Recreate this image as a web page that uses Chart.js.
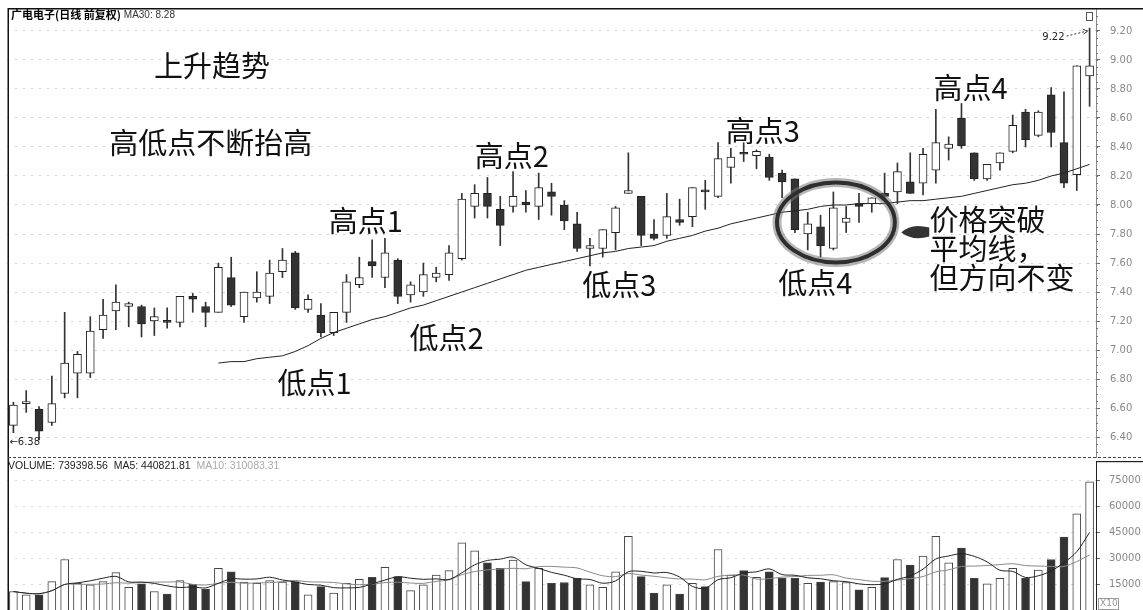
<!DOCTYPE html>
<html>
<head>
<meta charset="utf-8">
<script src="https://cdn.jsdelivr.net/npm/chart.js@4.4.0/dist/chart.umd.min.js"></script>
<style>
  html, body { margin: 0; padding: 0; background: #fff; overflow: hidden; }
  #wrap { position: relative; width: 1143px; height: 610px; }
  #priceBox { position: absolute; left: 0; top: 0; width: 1143px; height: 458px; }
  #volBox { position: absolute; left: 0; top: 458px; width: 1143px; height: 153px; }
</style>
</head>
<body>
<div id="wrap">
  <div id="priceBox"><canvas id="priceChart"></canvas></div>
  <div id="volBox"><canvas id="volChart"></canvas></div>
</div>
<script>
// 日K数据
const opens  = [6.48,6.63,6.59,6.50,6.70,6.84,6.84,7.14,7.27,7.30, 7.30,7.20,7.20,7.19,7.37,7.30,7.26,7.50,7.23,7.36,
                7.37,7.54,7.67,7.28,7.24,7.12,7.26,7.45,7.61,7.50, 7.62,7.38,7.40,7.50,7.52,7.63,7.99,8.08,7.97,7.99,
                8.02,7.99,8.09,8.00,7.87,7.70,7.70,7.81,8.08,8.06, 7.80,7.79,7.90,7.92,8.10,8.06,8.26,8.36,8.34,8.33,
                8.22,8.18,7.80,7.85,7.70,7.88,8.01,8.01,8.08,8.09, 8.16,8.15,8.24,8.39,8.60,8.36,8.18,8.29,8.37,8.64,
                8.48,8.76,8.43,8.21,8.89];
const highs  = [6.64,6.72,6.61,6.82,7.26,6.99,7.23,7.35,7.45,7.33, 7.31,7.29,7.29,7.37,7.39,7.33,7.60,7.64,7.40,7.54,
                7.62,7.70,7.68,7.38,7.32,7.26,7.52,7.64,7.76,7.77, 7.63,7.47,7.60,7.57,7.72,8.08,8.14,8.19,8.06,8.23,
                8.10,8.22,8.15,8.03,7.95,7.77,7.83,7.99,8.36,8.06, 7.90,8.08,8.04,8.12,8.17,8.43,8.39,8.43,8.38,8.35,
                8.24,8.18,7.95,7.93,8.09,7.99,8.08,8.05,8.22,8.29, 8.36,8.39,8.66,8.47,8.70,8.36,8.28,8.36,8.62,8.66,
                8.65,8.81,8.78,8.96,9.22];
const lows   = [6.43,6.57,6.38,6.48,6.67,6.67,6.81,7.08,7.14,7.16, 7.09,7.10,7.15,7.16,7.26,7.16,7.26,7.30,7.19,7.33,
                7.32,7.50,7.28,7.26,7.09,7.10,7.19,7.43,7.50,7.43, 7.32,7.33,7.37,7.47,7.48,7.62,7.91,7.91,7.72,7.95,
                7.95,7.90,7.93,7.83,7.68,7.58,7.64,7.69,8.08,7.72, 7.76,7.77,7.86,7.85,7.97,8.05,8.15,8.30,8.25,8.17,
                8.05,7.81,7.69,7.64,7.69,7.81,7.88,7.95,8.05,8.01, 8.08,8.07,8.15,8.31,8.39,8.17,8.17,8.24,8.36,8.40,
                8.47,8.40,8.12,8.10,8.68];
const closes = [6.62,6.64,6.44,6.63,6.91,6.97,7.13,7.24,7.33,7.32, 7.18,7.23,7.19,7.37,7.35,7.26,7.57,7.31,7.40,7.40,
                7.53,7.62,7.29,7.35,7.12,7.26,7.47,7.50,7.58,7.67, 7.37,7.45,7.52,7.53,7.67,8.04,8.08,7.99,7.86,8.06,
                8.00,8.12,8.06,7.89,7.70,7.72,7.83,7.98,8.10,7.79, 7.77,7.92,7.88,8.12,8.09,8.32,8.33,8.35,8.37,8.19,
                8.16,7.83,7.87,7.72,7.98,7.91,7.99,8.05,8.06,8.23, 8.08,8.35,8.43,8.42,8.41,8.18,8.28,8.36,8.55,8.45,
                8.64,8.50,8.15,8.96,8.96];

// 30日均线 (前16天无数据)
const ma30 = [null,null,null,null,null,null,null,null,null,null, null,null,null,null,null,null,6.91,6.92,6.92,6.94,
              6.95,6.96,6.99,7.03,7.08,7.12,7.15,7.18,7.21,7.23, 7.26,7.29,7.31,7.34,7.37,7.40,7.43,7.46,7.49,7.52,
              7.55,7.57,7.59,7.61,7.63,7.65,7.67,7.68,7.70,7.71, 7.72,7.75,7.77,7.79,7.82,7.84,7.87,7.89,7.91,7.93,
              7.95,7.96,7.97,7.99,8.00,8.00,8.01,8.01,8.01,8.02, 8.03,8.03,8.04,8.05,8.06,8.08,8.10,8.12,8.14,8.15,
              8.17,8.20,8.22,8.25,8.28];

// 成交量 (单位: 10股)
const volumes = [11150,9270,9270,16800,29500,15900,15000,16800,22000,13600, 15500,11150,9650,17400,15300,12500,24400,22500,16500,15900,
                 17400,16500,16800,9270,14000,10200,15900,18200,19300,25000, 19700,11700,15000,20600,23100,39000,34400,27600,24400,29100,
                 16800,24400,15900,16300,18700,15000,13600,22500,42800,19700, 10200,15000,9650,15900,14000,35200,20600,23100,19300,22500,
                 18700,18700,15900,16500,16800,16300,12100,13600,19100,29500, 26300,31400,42800,27600,36100,18700,15500,18700,24400,18700,
                 23500,29500,42400,55700,73940];

const priceTicks = [6.40,6.60,6.80,7.00,7.20,7.40,7.60,7.80,8.00,8.20,8.40,8.60,8.80,9.00,9.20];
const volTicks = [15000,30000,45000,60000,75000];
const days = opens.map((_, i) => String(i + 1));

// 图上的文字标注 [序号, 价格]
const notes = [
  { text: '上升趋势', at: [15.5, 8.96] },
  { text: '高低点不断抬高', at: [15.4, 8.43] },
  { text: '高点1', at: [27.5, 7.89] },
  { text: '低点1', at: [23.5, 6.77] },
  { text: '高点2', at: [38.9, 8.34] },
  { text: '低点2', at: [33.8, 7.08] },
  { text: '低点3', at: [47.3, 7.45] },
  { text: '高点3', at: [58.5, 8.51] },
  { text: '低点4', at: [62.6, 7.46] },
  { text: '高点4', at: [74.7, 8.81] },
];
const sideNote = { lines: ['价格突破', '平均线，', '但方向不变'], at: [71.5, 7.90], step: 0.20 };
const circle = { center: [64.2, 7.88], rx: 4.6, ry: 0.276 };
const arrowTip = [69.3, 7.81];

const isUp = closes.map((c, i) => c >= opens[i]);

// 移动平均 (成交量均线)
const movingAvg = (arr, n) => arr.map((_, i) => {
  const win = arr.slice(Math.max(0, i - n + 1), i + 1);
  return win.reduce((a, b) => a + b, 0) / win.length;
});
const volMa5 = movingAvg(volumes, 5);
const volMa10 = movingAvg(volumes, 10);

const cjk = '"Noto Sans CJK SC", sans-serif';

// 右侧轴固定宽度, 不让刻度文字挤压绘图区
const fixAxis = s => { s.width = 47; s.paddingTop = 0; s.paddingBottom = 0; };

const pricePlugin = {
  id: 'priceDecor',
  afterDraw(chart) {
    const { ctx, scales: { x, y } } = chart;
    const px = i => x.getPixelForValue(i);
    const py = v => y.getPixelForValue(v);
    ctx.save();

    // 边框
    ctx.fillStyle = '#111';
    ctx.fillRect(8, 8, 1135, 1.5);
    ctx.fillRect(7.5, 8, 1.5, 450);
    ctx.strokeStyle = '#444';
    ctx.lineWidth = 1;
    ctx.setLineDash([3, 2]);
    ctx.beginPath(); ctx.moveTo(8, 457.5); ctx.lineTo(1143, 457.5); ctx.stroke();
    ctx.setLineDash([]);

    // 右轴小刻度
    ctx.strokeStyle = '#777';
    for (let v = 6.30; v < 9.35; v += 0.05) {
      const yy = Math.round(py(v)) + 0.5;
      ctx.beginPath(); ctx.moveTo(x.right, yy); ctx.lineTo(x.right + 2, yy); ctx.stroke();
    }

    // 标题
    ctx.textBaseline = 'middle';
    ctx.textAlign = 'left';
    ctx.fillStyle = '#000';
    ctx.font = 'bold 11px ' + cjk;
    ctx.fillText('广电电子(日线 前复权)', 11, 15);
    const tw = ctx.measureText('广电电子(日线 前复权)').width;
    ctx.font = '10px "Liberation Sans", Arial, sans-serif';
    ctx.fillStyle = '#333';
    ctx.fillText('MA30: 8.28', 11 + tw + 3, 15);

    // 文字标注
    ctx.fillStyle = '#111';
    ctx.font = '29px ' + cjk;
    ctx.textAlign = 'center';
    notes.forEach(n => ctx.fillText(n.text, px(n.at[0]), py(n.at[1])));
    ctx.textAlign = 'left';
    sideNote.lines.forEach((t, k) => ctx.fillText(t, px(sideNote.at[0]), py(sideNote.at[1] - k * sideNote.step)));

    // 椭圆圈
    const cx = px(circle.center[0]), cy = py(circle.center[1]);
    const rx = Math.abs(px(circle.center[0] + circle.rx) - cx);
    const ry = Math.abs(py(circle.center[1] + circle.ry) - cy);
    ctx.strokeStyle = 'rgba(120,120,120,0.55)';
    ctx.lineWidth = 9;
    ctx.beginPath(); ctx.ellipse(cx, cy, rx, ry, 0, 0, Math.PI * 2); ctx.stroke();
    ctx.strokeStyle = '#2e2e2e';
    ctx.lineWidth = 4;
    ctx.beginPath(); ctx.ellipse(cx, cy, rx, ry, 0, 0, Math.PI * 2); ctx.stroke();

    // 箭头
    const ax = px(arrowTip[0]), ay = py(arrowTip[1]);
    ctx.fillStyle = '#333';
    ctx.beginPath();
    ctx.moveTo(ax, ay);
    ctx.quadraticCurveTo(ax + 10, ay - 10, ax + 28, ay - 5);
    ctx.lineTo(ax + 28, ay + 4);
    ctx.quadraticCurveTo(ax + 12, ay + 9, ax, ay);
    ctx.fill();

    // 最低价 / 最高价标记
    const lowMin = Math.min(...lows);
    const highMax = Math.max(...highs);
    const hi = highs.indexOf(highMax);
    ctx.font = '10px "DejaVu Sans", sans-serif';
    ctx.fillStyle = '#222';
    ctx.textAlign = 'left';
    ctx.fillText('←' + lowMin.toFixed(2), px(0) - 4, py(lowMin) + 3);

    const hx = px(hi), hy = py(highMax);
    ctx.textAlign = 'right';
    ctx.fillText(highMax.toFixed(2), hx - 25, hy + 9);
    ctx.strokeStyle = '#333';
    ctx.lineWidth = 1;
    ctx.setLineDash([2, 2]);
    ctx.beginPath(); ctx.moveTo(hx - 23, hy + 8); ctx.lineTo(hx - 3, hy + 3); ctx.stroke();
    ctx.setLineDash([]);
    ctx.beginPath(); ctx.moveTo(hx - 7, hy + 1); ctx.lineTo(hx - 2, hy + 3); ctx.lineTo(hx - 6, hy + 6); ctx.stroke();

    // 右上角小方框
    ctx.strokeStyle = '#555';
    ctx.strokeRect(1086.5, 12.5, 6, 8);

    ctx.restore();
  }
};

const volPlugin = {
  id: 'volDecor',
  afterDraw(chart) {
    const { ctx, scales: { x } } = chart;
    ctx.save();
    ctx.fillStyle = '#111';
    ctx.fillRect(7.5, 0, 1.5, 153);
    ctx.fillStyle = '#222';
    ctx.fillRect(x.right, 3, 47, 1.2);

    ctx.textBaseline = 'middle';
    ctx.textAlign = 'left';
    ctx.font = '10.5px "Liberation Sans", Arial, sans-serif';
    const part1 = 'VOLUME: 739398.56  MA5: 440821.81  ';
    ctx.fillStyle = '#222';
    ctx.fillText(part1, 8, 8);
    ctx.fillStyle = '#aaa';
    ctx.fillText('MA10: 310083.31', 8 + ctx.measureText(part1).width, 8);

    // 单位框
    ctx.strokeStyle = '#999';
    ctx.lineWidth = 1;
    ctx.strokeRect(x.right + 2.5, 140.5, 20, 11);
    ctx.fillStyle = '#999';
    ctx.font = '9px "DejaVu Sans", sans-serif';
    ctx.fillText('X10', x.right + 4, 146);
    ctx.restore();
  }
};

new Chart(document.getElementById('priceChart'), {
  data: {
    labels: days,
    datasets: [
      {
        type: 'line', label: 'MA30', data: ma30,
        borderColor: '#222', borderWidth: 1, pointRadius: 0, tension: 0, order: 0
      },
      {
        type: 'bar', label: '实体', data: opens.map((o, i) => [o, closes[i]]),
        backgroundColor: isUp.map(u => u ? '#fff' : '#333'),
        borderColor: '#222', borderWidth: 1, borderSkipped: false,
        barThickness: 8, minBarLength: 2, grouped: false, order: 1
      },
      {
        type: 'bar', label: '影线', data: lows.map((l, i) => [l, highs[i]]),
        backgroundColor: '#333', barThickness: 1, grouped: false, order: 2
      }
    ]
  },
  options: {
    responsive: true,
    maintainAspectRatio: false,
    animation: false,
    layout: { padding: { left: 7, right: 0, top: 9, bottom: 1 } },
    plugins: { legend: { display: false }, tooltip: { enabled: false } },
    scales: {
      x: { display: false, offset: true },
      y: {
        position: 'right', min: 6.2621, max: 9.3517,
        afterFit: fixAxis,
        afterBuildTicks: s => { s.ticks = priceTicks.map(v => ({ value: v })); },
        ticks: {
          color: '#888', padding: 10,
          font: { family: 'DejaVu Sans', size: 10 },
          callback: v => Number(v).toFixed(2)
        },
        grid: { color: '#cfcfcf', tickColor: '#666', tickLength: 4 },
        border: { display: true, color: '#888', dash: [2, 6] }
      }
    }
  },
  plugins: [pricePlugin]
});

new Chart(document.getElementById('volChart'), {
  data: {
    labels: days,
    datasets: [
      {
        type: 'line', label: 'MA5', data: volMa5,
        borderColor: '#222', borderWidth: 1, pointRadius: 0, tension: 0.3, order: 0
      },
      {
        type: 'line', label: 'MA10', data: volMa10,
        borderColor: '#888', borderWidth: 1, pointRadius: 0, tension: 0.3, order: 0
      },
      {
        type: 'bar', label: 'VOLUME', data: volumes,
        backgroundColor: isUp.map(u => u ? '#fff' : '#333'),
        borderColor: '#444', borderWidth: 1, borderSkipped: false,
        barThickness: 8, order: 1
      }
    ]
  },
  options: {
    responsive: true,
    maintainAspectRatio: false,
    animation: false,
    layout: { padding: { left: 7, right: 0, top: 3, bottom: 0 } },
    plugins: { legend: { display: false }, tooltip: { enabled: false } },
    scales: {
      x: { display: false, offset: true },
      y: {
        position: 'right', min: 0, max: 85900,
        afterFit: fixAxis,
        afterBuildTicks: s => { s.ticks = volTicks.map(v => ({ value: v })); },
        ticks: {
          color: '#888', padding: 9,
          font: { family: 'DejaVu Sans', size: 10 },
          callback: v => String(v)
        },
        grid: { color: '#d5d5d5', tickColor: '#666', tickLength: 4 },
        border: { display: true, color: '#222', dash: [2, 6] }
      }
    }
  },
  plugins: [volPlugin]
});
</script>
</body>
</html>
